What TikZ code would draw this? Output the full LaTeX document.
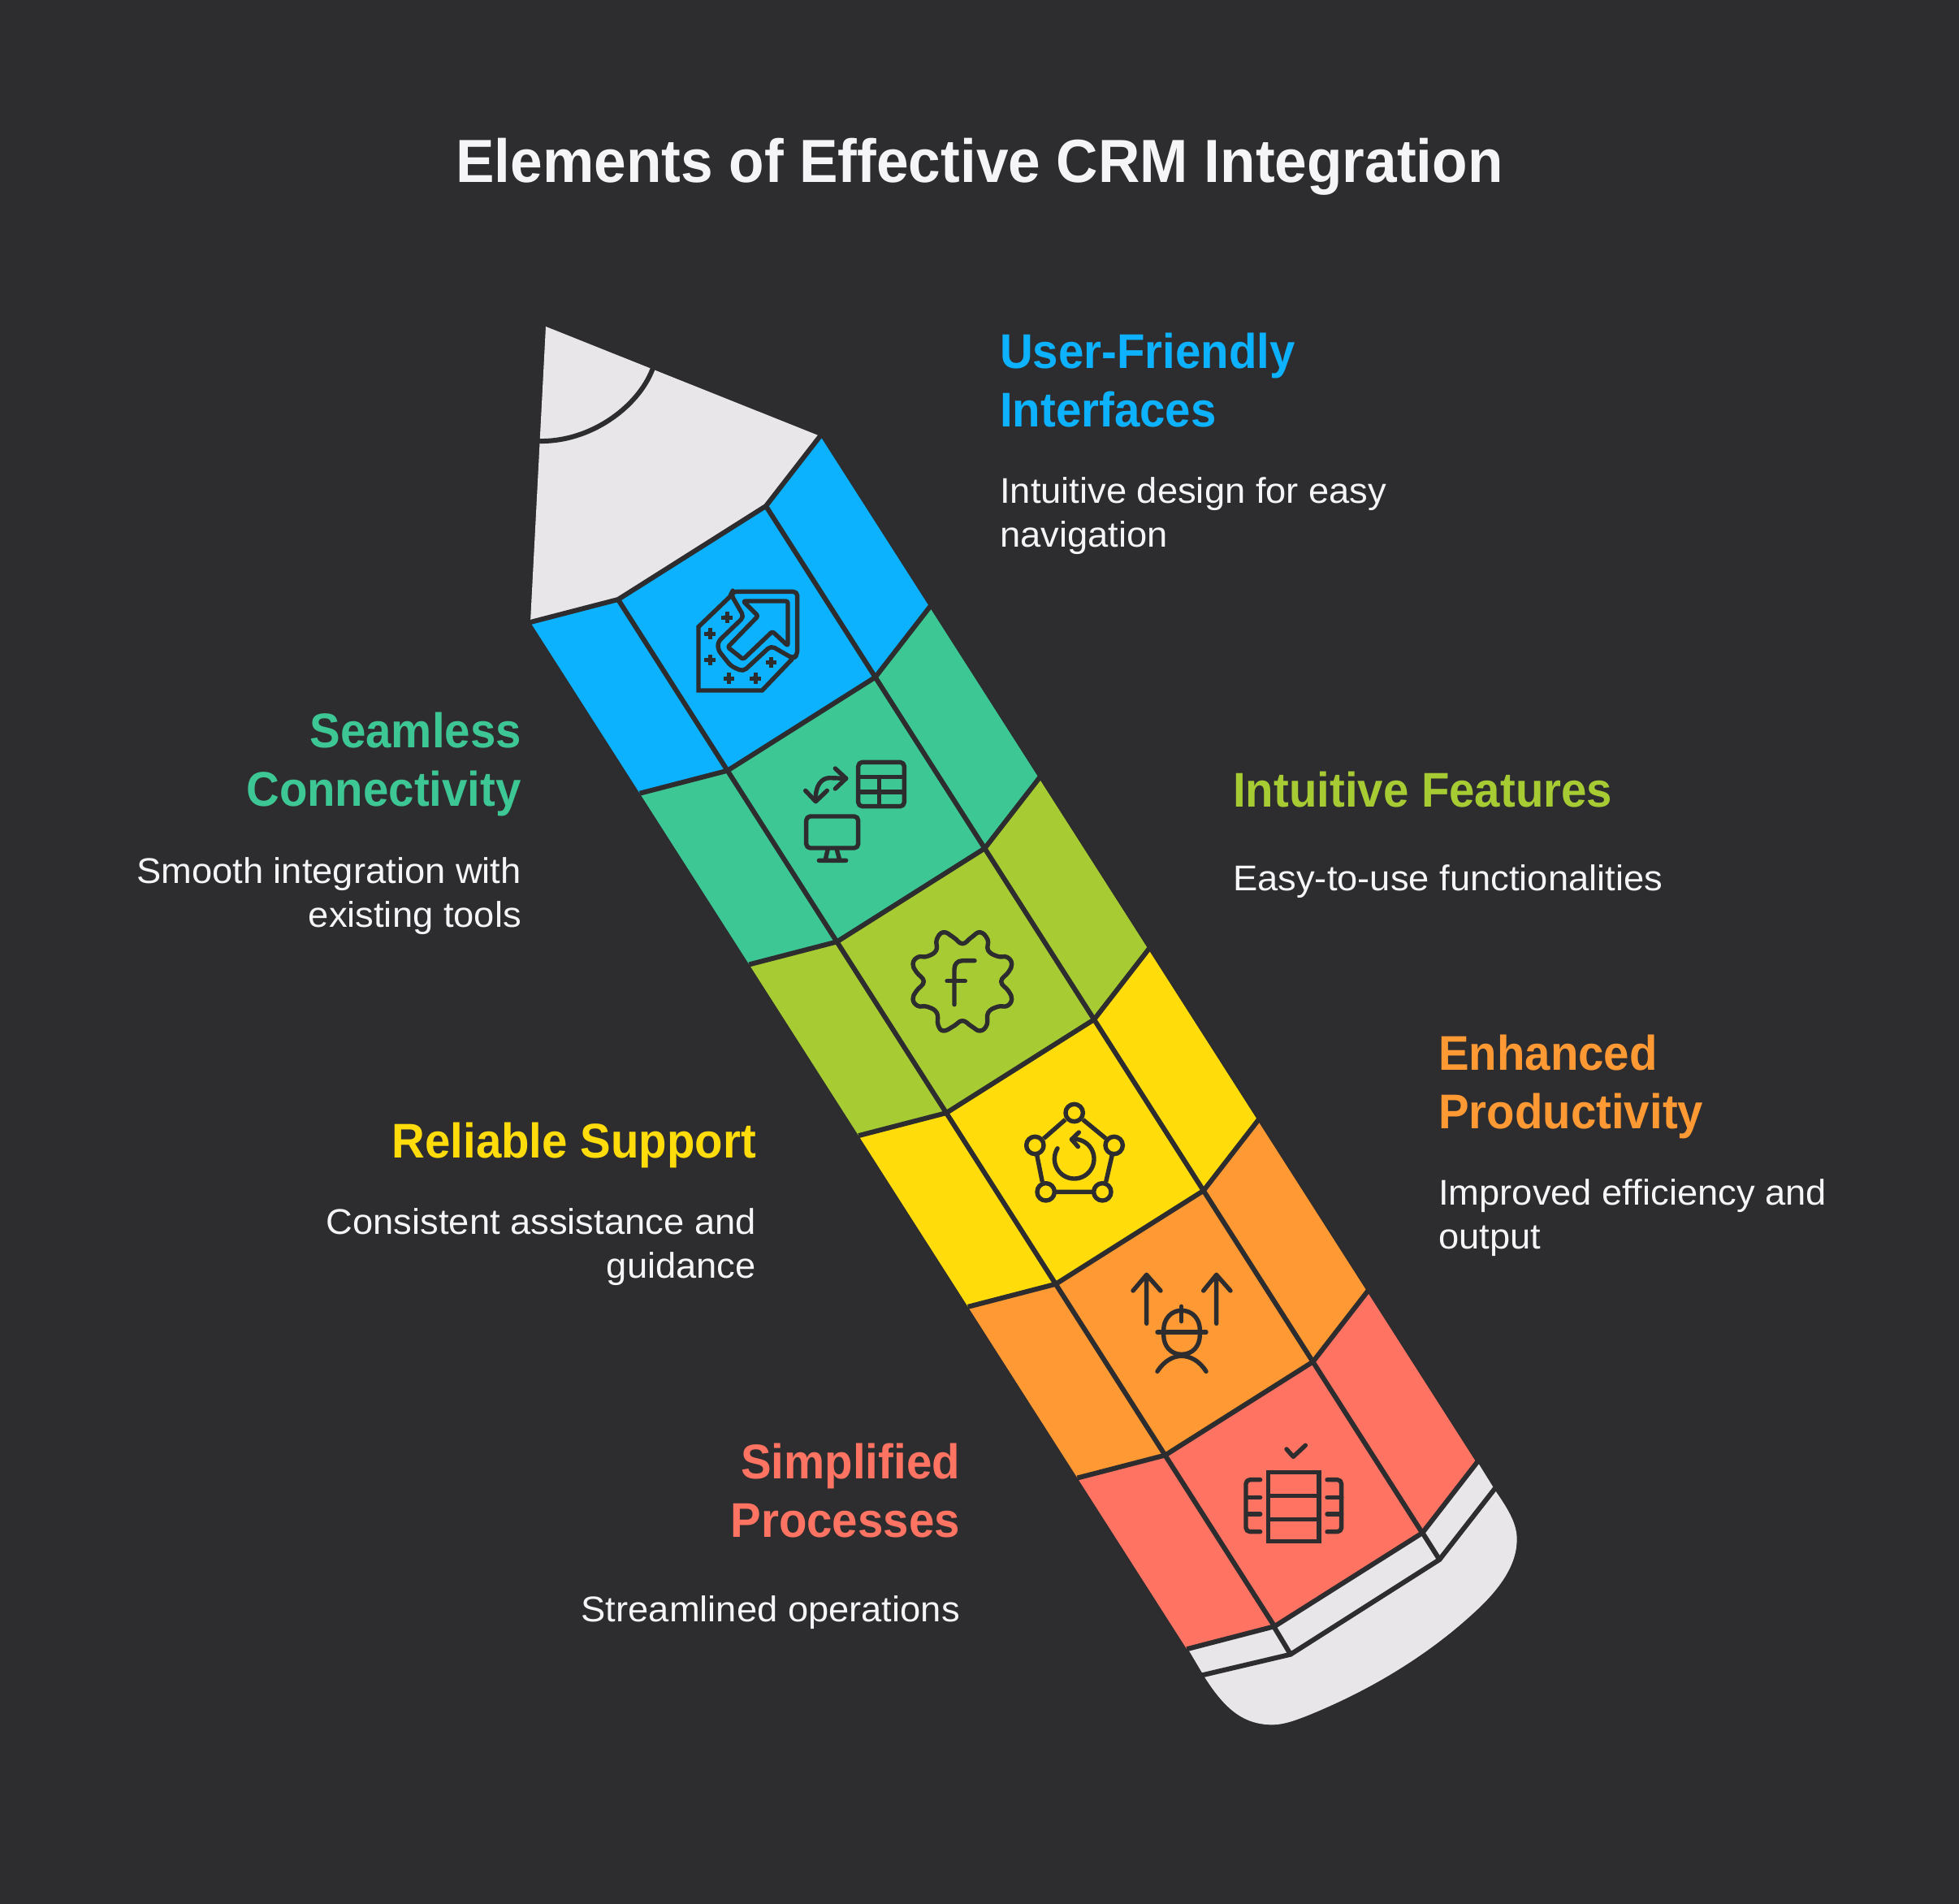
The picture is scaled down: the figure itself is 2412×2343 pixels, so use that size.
\documentclass[tikz,border=0pt]{standalone}
\usepackage{fontspec}
\setmainfont{Liberation Sans}
\newfontfamily\titlefont[FakeStretch=0.949]{Liberation Sans}
\newfontfamily\headfont[FakeStretch=0.94]{Liberation Sans}
\newfontfamily\bodyfont[FakeStretch=1.03]{Liberation Sans}
\definecolor{bg}{HTML}{2D2C2F}
\definecolor{pale}{HTML}{E8E6E9}
\definecolor{cblue}{HTML}{0DB2FF}
\definecolor{cgreen}{HTML}{3DC794}
\definecolor{clime}{HTML}{A6CB33}
\definecolor{cyellow}{HTML}{FFDC0A}
\definecolor{corange}{HTML}{FF9933}
\definecolor{cred}{HTML}{FF7362}
\definecolor{txt}{HTML}{F5F4F7}
\tikzset{
  seam/.style={draw=bg,line width=6pt,line join=miter},
  glyph/.style={draw=bg,line width=5.4pt,line cap=round,line join=round},
  zoomed/.style={x=0.33333pt,y=-0.33333pt},
  title/.style={inner sep=0pt,text=txt,font=\titlefont\bfseries\fontsize{75}{90}\selectfont},
  headl/.style={inner sep=0pt,anchor=base west,align=left,font=\headfont\bfseries\fontsize{60}{72}\selectfont},
  headr/.style={inner sep=0pt,anchor=base east,align=right,font=\headfont\bfseries\fontsize{60}{72}\selectfont},
  bodyl/.style={inner sep=0pt,anchor=base west,align=left,text=txt,font=\bodyfont\fontsize{44}{54}\selectfont},
  bodyr/.style={inner sep=0pt,anchor=base east,align=right,text=txt,font=\bodyfont\fontsize{44}{54}\selectfont},
}
\begin{document}
\begin{tikzpicture}[x=1pt,y=-1pt]
\useasboundingbox (0,0) rectangle (2412,2343);
\fill[bg] (-5,-5) rectangle (2417,2348);
% tip
\fill[pale] (672,402) -- (1010,537) -- (943,623) -- (761,738) -- (653,766) -- cycle;
\draw[seam] (805,450) .. controls (790,497) and (730,545) .. (662,543);
% eraser
\begin{scope}[shift={(1440,1780)},zoomed]
\fill[pale] (65,745) -- (1138,60) -- (1205,168) .. controls (1255,240) and (1283,290) .. (1283,345)
  .. controls (1283,440) and (1220,530) .. (1120,620) .. controls (1000,730) and (800,880) .. (500,1000)
  .. controls (460,1015) and (420,1030) .. (380,1030) .. controls (280,1030) and (210,980) .. (132,858) -- cycle;
\end{scope}
% bands
\foreach \i/\c in {0/cblue,1/cgreen,2/clime,3/cyellow,4/corange,5/cred}{
  \pgfmathsetmacro{\dx}{134.7*\i}
  \pgfmathsetmacro{\dy}{210.7*\i}
  \fill[\c,shift={(\dx,\dy)}] (653,766) -- (761,738) -- (943,623) -- (1010,537)
     -- ++(134.7,210.7) -- (1077.7,833.7) -- (895.7,948.7) -- (787.7,976.7) -- cycle;
}
\foreach \i in {0,...,6}{
  \pgfmathsetmacro{\dx}{134.7*\i}
  \pgfmathsetmacro{\dy}{210.7*\i}
  \draw[seam,shift={(\dx,\dy)}] (653,766) -- (761,738) -- (943,623) -- (1012,534);
}
\draw[seam] (761,738) -- ++(808.2,1264.2);
\draw[seam] (943,623) -- ++(808.2,1264.2);
% ferrule lines
\begin{scope}[shift={(1440,1780)},zoomed]
\draw[seam] (120,847) -- (447,770) -- (997,420) -- (1203,156);
\draw[seam] (388,672) -- (447,770);
\draw[seam] (935,322) -- (997,420);
\end{scope}
% icon 1
\begin{scope}[shift={(820,700)},zoomed]
\draw[glyph,line join=miter] (240,100) -- (120,215) -- (120,450) -- (355,450) -- (465,335);
\draw[glyph,rounded corners=5pt] (240,95) -- (245,85) -- (485,85) -- (485,318) -- (470,332) -- (445,318) -- (388,285) -- (285,380) -- (240,360) -- (192,300) -- (192,270) -- (288,178) -- cycle;
\draw[glyph,rounded corners=2.5pt] (285,120) -- (450,120) -- (450,285) -- (393,232) -- (285,335) -- (228,290) -- (340,175) -- cycle;
\foreach \a/\b in {225/180,162/240,162/338,232/405,330/405,388/347}{
  \draw[glyph,line width=5pt,line cap=butt] (\a-20,\b) -- (\a+20,\b) (\a,\b-20) -- (\a,\b+20);
  \fill[bg] (\a,\b) circle (3.6pt);
}
\end{scope}
% icon 2
\begin{scope}[shift={(970,910)},zoomed]
\draw[glyph,rounded corners=5pt] (260,85) rectangle (430,248);
\draw[glyph,line cap=butt] (260,140) -- (430,140) (260,195) -- (430,195) (338,140) -- (338,248);
\draw[glyph,rounded corners=5pt] (68,285) rectangle (260,402);
\draw[glyph] (148,405) -- (138,448) (180,405) -- (192,448) (115,448) -- (215,448);
\draw[glyph] (215,145) -- (155,143) .. controls (125,143) and (100,170) .. (103,228);
\draw[glyph] (175,108) -- (215,145) -- (175,183);
\draw[glyph] (65,190) -- (103,230) -- (145,190);
\end{scope}
% icon 3
\begin{scope}[shift={(1100,1130)},zoomed]
\draw[glyph] plot[smooth cycle,tension=0.75] coordinates {(255,95) (222,72) (185,53) (160,80) (158,120) (125,142) (90,145) (72,170) (85,200) (112,235) (85,270) (72,300) (90,325) (125,328) (160,350) (165,395) (185,417) (222,400) (255,380) (288,400) (320,417) (345,395) (350,350) (385,328) (420,325) (437,300) (425,270) (398,235) (425,200) (437,170) (420,145) (385,142) (350,120) (348,80) (320,53) (288,72)};
\draw[glyph] (300,158) -- (255,158) .. controls (235,158) and (225,172) .. (225,190) -- (225,320);
\draw[glyph] (198,233) -- (265,233);
\end{scope}
% icon 4
\begin{scope}[shift={(1240,1340)},zoomed]
\foreach \a/\b in {248/90,103/210,395/210,143/382,352/382}{\draw[glyph] (\a,\b) circle (10.7pt);}
\draw[glyph,line cap=butt] (215,115) -- (135,185) (280,115) -- (365,185) (110,245) -- (130,345) (388,245) -- (365,345) (180,382) -- (315,382);
\draw[glyph] plot[domain=148:450,samples=50] ({248+73*cos(\x)},{260-73*sin(\x)});
\draw[glyph] (265,162) -- (238,188) -- (262,215);
\end{scope}
% icon 5
\begin{scope}[shift={(1370,1550)},zoomed]
\draw[glyph] (125,238) -- (125,58) (75,117) -- (125,58) -- (177,117);
\draw[glyph] (383,238) -- (383,58) (335,117) -- (383,58) -- (435,117);
\draw[glyph] (254,190) .. controls (295,190) and (322,222) .. (322,262) -- (322,280) .. controls (322,322) and (295,352) .. (254,352) .. controls (215,352) and (188,322) .. (188,280) -- (188,262) .. controls (188,222) and (215,190) .. (254,190) -- cycle;
\draw[glyph] (165,270) -- (345,270);
\draw[glyph] (254,175) -- (254,230);
\draw[glyph] (165,415) .. controls (190,375) and (225,358) .. (254,358) .. controls (285,358) and (320,375) .. (345,415);
\end{scope}
% icon 6
\begin{scope}[shift={(1510,1760)},zoomed]
\draw[glyph] (222,72) -- (247,100) -- (292,58);
\draw[glyph,line join=miter] (155,158) rectangle (342,413);
\draw[glyph,line cap=butt] (155,245) -- (342,245) (155,332) -- (342,332);
\draw[glyph,rounded corners=5pt] (125,185) -- (72,185) -- (72,377) -- (125,377);
\draw[glyph] (75,250) -- (125,250) (75,312) -- (125,312);
\draw[glyph,rounded corners=5pt] (372,185) -- (425,185) -- (425,377) -- (372,377);
\draw[glyph] (372,250) -- (425,250) (372,312) -- (425,312);
\end{scope}
% texts
\node[title,anchor=base] (ttl) at (1206,224) {Elements of Effective CRM Integration};
\node[headl,text=cblue] (h1) at (1231,525) {User-Friendly\\Interfaces};
\node[bodyl] (b1) at (1231,673) {Intuitive design for easy\\navigation};
\node[headr,text=cgreen] (h2) at (642,992) {Seamless\\Connectivity};
\node[bodyr] (b2) at (642,1141) {Smooth integration with\\existing tools};
\node[headl,text=clime] (h3) at (1518,993) {Intuitive Features};
\node[bodyl] (b3) at (1518,1096) {Easy-to-use functionalities};
\node[headl,text=corange] (h4) at (1771,1389) {Enhanced\\Productivity};
\node[bodyl] (b4) at (1771,1537) {Improved efficiency and\\output};
\node[headr,text=cyellow] (h5) at (931,1425) {Reliable Support};
\node[bodyr] (b5) at (931,1573) {Consistent assistance and\\guidance};
\node[headr,text=cred] (h6) at (1182,1892) {Simplified\\Processes};
\node[bodyr] (b6) at (1182,1996) {Streamlined operations};
\end{tikzpicture}
\end{document}
